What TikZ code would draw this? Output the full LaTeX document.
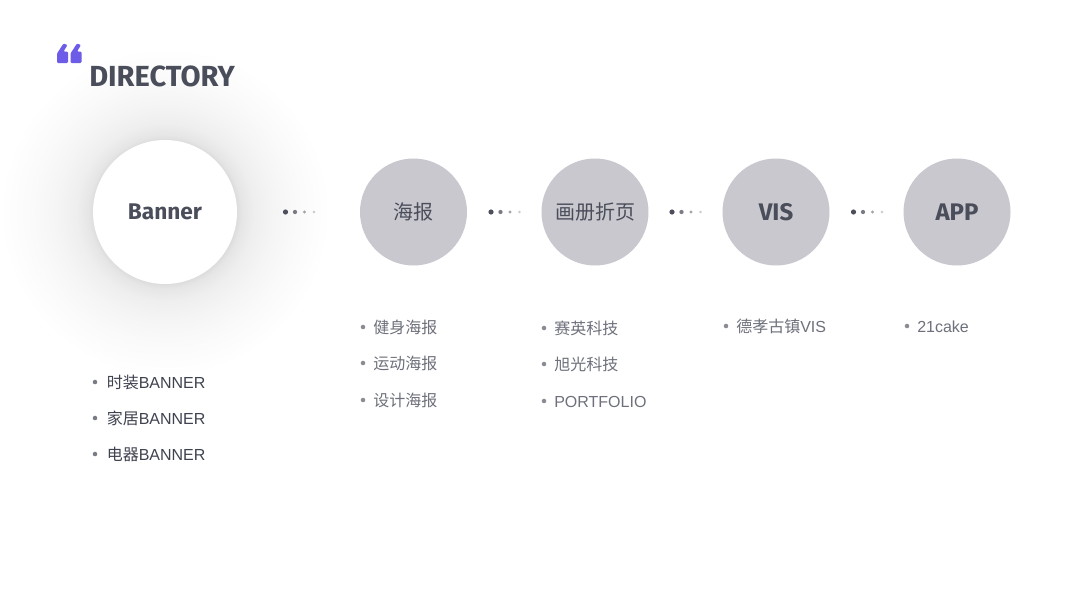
\documentclass[tikz,border=0pt]{standalone}
\usepackage{fontspec}
\setmainfont{Liberation Sans}
\newfontfamily\cjk{Noto Sans CJK SC}
\newfontfamily\fira{Fira Sans}
\definecolor{titlecol}{HTML}{4A4D5A}
\definecolor{quotecol}{HTML}{6C5CE7}
\definecolor{circcol}{HTML}{C9C8CF}
\definecolor{listdark}{HTML}{3F4350}
\definecolor{listgray}{HTML}{6E717B}
\definecolor{bulletgray}{HTML}{8A8C94}
\definecolor{dotone}{HTML}{4D505C}
\definecolor{dottwo}{HTML}{7A7C85}
\definecolor{dotthree}{HTML}{A2A4AA}
\definecolor{dotfour}{HTML}{C8C9CE}
\pgfdeclareradialshading{glowshade}{\pgfpoint{0bp}{0bp}}{%
color(0bp)=(black!14);color(10.8bp)=(black!14);color(11.6bp)=(black!10);%
color(13.5bp)=(black!6.5);color(16.5bp)=(black!4);color(20bp)=(black!2);%
color(23bp)=(black!0.8);color(25bp)=(white);color(50bp)=(white)}
\begin{document}
\begin{tikzpicture}[x=0.75pt,y=-0.75pt,
  topic/.style={circle, fill=circcol, minimum size=80.25pt, inner sep=0pt, text=titlecol},
  latin/.style={font=\fira\bfseries\fontsize{18}{20}\selectfont},
  hanzi/.style={font=\cjk\fontsize{15}{17}\selectfont},
  item/.style={anchor=base west, inner sep=0pt, font=\fontsize{12}{14}\selectfont},
  bul/.style={circle, inner sep=0pt, minimum size=3.4pt, fill=bulletgray},
  dotA/.style={circle, inner sep=0pt, minimum size=3.9pt, fill=dotone},
  dotB/.style={circle, inner sep=0pt, minimum size=3.2pt, fill=dottwo},
  dotC/.style={circle, inner sep=0pt, minimum size=2.5pt, fill=dotthree},
  dotD/.style={circle, inner sep=0pt, minimum size=1.9pt, fill=dotfour}]
\useasboundingbox[fill=white] (0,0) rectangle (1067,600);

% glow around the Banner circle
\shade[shading=glowshade] (165,212) circle [radius=123.75pt];
\node[circle, fill=white, minimum size=108pt, inner sep=0pt, text=titlecol,
  font=\fira\bfseries\fontsize{17}{19}\selectfont] (banner) at (165,212) {Banner};

% quote mark
\fill[quotecol, rounded corners=0.8pt] (57,63) -- (57,53.5) -- (63.5,43.5) -- (67.5,45) -- (63.5,51.5) -- (68,51.5) -- (68,63) -- cycle;
\fill[quotecol, rounded corners=0.8pt] (70.5,63) -- (70.5,53.5) -- (77,43.5) -- (81,45) -- (77,51.5) -- (81.5,51.5) -- (81.5,63) -- cycle;

% title
\node[anchor=base west, inner sep=0pt, text=titlecol,
  font=\fira\bfseries\fontsize{21.8}{24}\selectfont] (title) at (89,86) {DIRECTORY};

% topic circles
\node[topic, hanzi] (poster) at (413.5,212) {海报};
\node[topic, hanzi] (album) at (595,212) {画册折页};
\node[topic, latin] (vis) at (776,212) {VIS};
\node[topic, latin] (app) at (957,212) {APP};

% dotted connectors
\foreach \g/\x in {a/285.5,b/491,c/672,d/853.5}{
  \node[dotA] (\g1) at (\x,212) {};
  \node[dotB] (\g2) at (\x+9.5,212) {};
  \node[dotC] (\g3) at (\x+19,212) {};
  \node[dotD] (\g4) at (\x+28.5,212) {};
}

% Banner list
\foreach \n/\y/\t in {1/388/时装,2/424/家居,3/460/电器}{
  \node[bul, fill=dottwo] (bb\n) at (95,\y-6) {};
  \node[item, text=listdark] (bt\n) at (106.5,\y) {{\cjk \t}BANNER};
}

% poster list
\foreach \n/\y/\t in {1/333/健身海报,2/369/运动海报,3/406/设计海报}{
  \node[bul] (pb\n) at (363,\y-6) {};
  \node[item, text=listgray] (pt\n) at (373,\y) {\cjk \t};
}

% album list
\node[bul] (ab1) at (544,328) {};
\node[item, text=listgray] (at1) at (554,334) {\cjk 赛英科技};
\node[bul] (ab2) at (544,364) {};
\node[item, text=listgray] (at2) at (554,370) {\cjk 旭光科技};
\node[bul] (ab3) at (544,401) {};
\node[item, text=listgray] (at3) at (554,407) {PORTFOLIO};

% VIS list
\node[bul] (vb1) at (726,326) {};
\node[item, text=listgray] (vt1) at (736,332) {{\cjk 德孝古镇}VIS};

% APP list
\node[bul] (pb) at (907,326) {};
\node[item, text=listgray] (apt1) at (917,332) {21cake};
\end{tikzpicture}
\end{document}
